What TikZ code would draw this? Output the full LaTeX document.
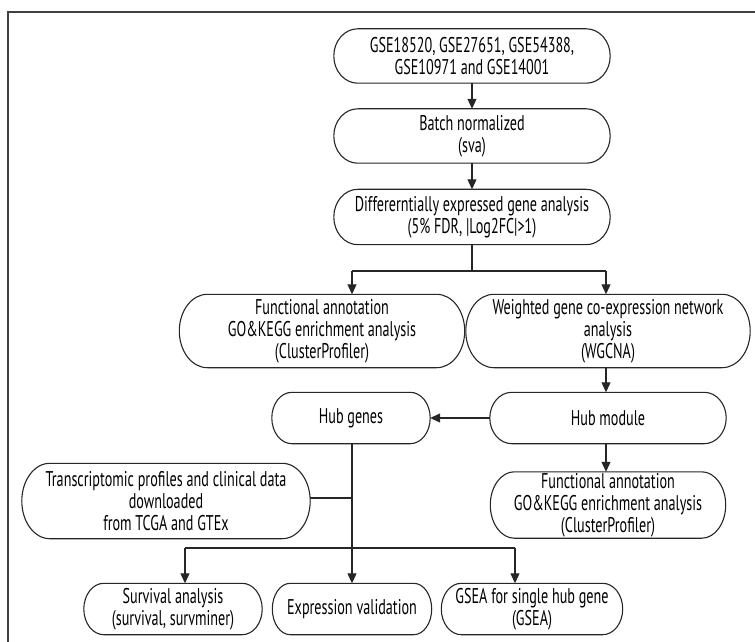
\documentclass[tikz,border=0pt]{standalone}
\usepackage{fontspec}
\setmainfont[FakeStretch=0.665]{PT Sans}
\usetikzlibrary{arrows.meta,calc}
\begin{document}
\begin{tikzpicture}[x=1pt,y=1pt,
  box/.style={draw=none,align=center,inner sep=0pt,font=\fontsize{21.3}{22}\selectfont},
  conn/.style={line width=1.1pt,draw=black!85},
  arr/.style={conn,-{Triangle[length=10pt,width=9pt]}},
  outl/.style={line width=1.1pt,draw=black!85}]
\useasboundingbox (0,0) rectangle (755,641);
\clip (0,0) rectangle (755,641);
\draw[line width=1.4pt,draw=black!75] (8,-20) rectangle (780,629);
% nodes
\node[box,minimum width=276pt,minimum height=54pt] (n1) at (472,585) {GSE18520, GSE27651, GSE54388,\\GSE10971 and GSE14001};
\node[box,minimum width=276pt,minimum height=54pt] (n2) at (472,505) {Batch normalized\\(sva)};
\node[box,minimum width=276pt,minimum height=55pt] (n3) at (472,424) {Differerntially expressed gene analysis\\(5\% FDR, |Log2FC|>1)};
\node[box,minimum width=285pt,minimum height=73pt] (fa1) at (322,310) {Functional annotation\\GO\&KEGG enrichment analysis\\(ClusterProfiler)};
\node[box,minimum width=284pt,minimum height=73pt] (wg) at (608,310) {Weighted gene co-expression network\\analysis\\(WGCNA)};
\node[box,minimum width=236pt,minimum height=51pt] (hm) at (608,223) {Hub module};
\node[box,minimum width=158pt,minimum height=51pt] (hg) at (351,223) {Hub genes};
\node[box,minimum width=235pt,minimum height=66pt] (fa2) at (608,136) {Functional annotation\\GO\&KEGG enrichment analysis\\(ClusterProfiler)};
\node[box,minimum width=288pt,minimum height=75pt] (tr) at (166,140) {Transcriptomic profiles and clinical data\\downloaded\\from TCGA and GTEx};
\node[box,minimum width=178pt,minimum height=51pt] (sv) at (173,32) {Survival analysis\\(survival, survminer)};
\node[box,minimum width=159pt,minimum height=51pt] (ev) at (352,32) {Expression validation};
\node[box,minimum width=181pt,minimum height=51pt] (gs) at (532,32) {GSEA for single hub gene\\(GSEA)};
% outlines with elliptical ends
\foreach \nd/\rr in {n1/24,n2/24,n3/24,fa1/28,wg/28,hm/22,hg/20,fa2/24,tr/28,sv/20,ev/18,gs/20}{
  \draw[outl] let \p1=(\nd.north west), \p2=(\nd.south east), \n1={(\y1-\y2)/2} in
    ({\x1+\rr pt},\y1) -- ({\x2-\rr pt},\y1)
    arc[start angle=90,end angle=-90,x radius=\rr pt,y radius=\n1]
    -- ({\x1+\rr pt},\y2)
    arc[start angle=270,end angle=90,x radius=\rr pt,y radius=\n1] -- cycle;
}
% connectors
\draw[arr] (n1) -- (n2);
\draw[arr] (n2) -- (n3);
\coordinate (s1) at (472,370);
\coordinate (s1l) at (352,370);
\coordinate (s1r) at (606,370);
\draw[conn] (n3.south) -- (s1);
\draw[conn] (s1l) -- (s1r);
\draw[arr] (s1l) -- (s1l |- fa1.north);
\draw[arr] (s1r) -- (s1r |- wg.north);
\draw[arr] (wg.south -| s1r) -- (s1r |- hm.north);
\draw[arr] (hm.west) -- (hg.east);
\draw[arr] (hm.south -| s1r) -- (s1r |- fa2.north);
\coordinate (j1) at (352,143);
\coordinate (j2) at (352,93);
\coordinate (jl) at (185,93);
\coordinate (jr) at (515,93);
\draw[conn] (hg.south -| j1) -- (j2);
\draw[conn] (tr.east |- j1) -- (j1);
\draw[conn] (jl) -- (jr);
\draw[arr] (j2) -- (j2 |- ev.north);
\draw[arr] (jl) -- (jl |- sv.north);
\draw[arr] (jr) -- (jr |- gs.north);
\end{tikzpicture}
\end{document}
